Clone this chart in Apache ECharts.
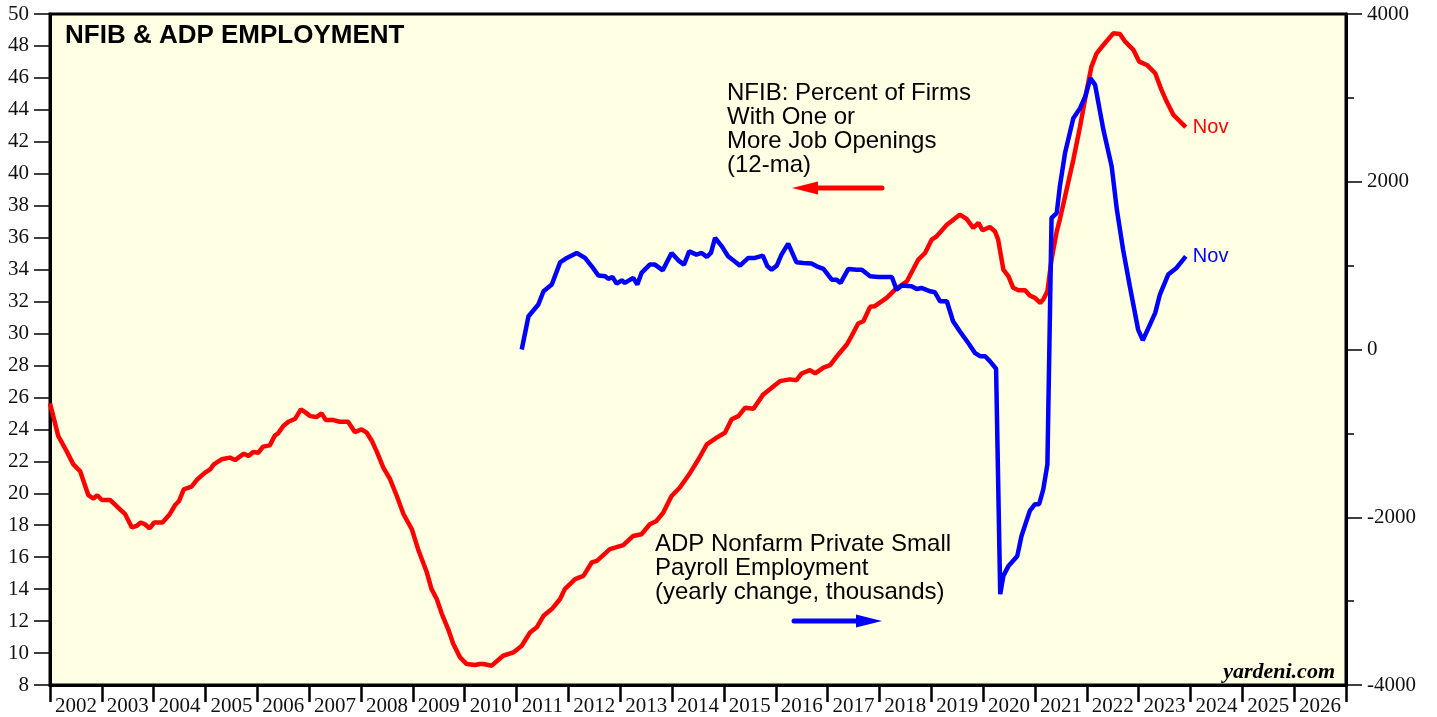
<!DOCTYPE html>
<html>
<head>
<meta charset="utf-8">
<script src="https://cdn.jsdelivr.net/npm/echarts@6/dist/echarts.min.js"></script>
<style>
  html, body { margin: 0; padding: 0; background: #fff; }
  #main { width: 1437px; height: 717px; }
</style>
</head>
<body>
<div id="main"></div>
<script>
// year labels along the bottom (one per year band)
var years = [];
for (var y = 2002; y <= 2026; y++) years.push(String(y));

// NFIB: percent of firms with one or more job openings (12-ma)
var nfibYears = [2002.00, 2002.16, 2002.32, 2002.45, 2002.58, 2002.74, 2002.84, 2002.91, 2003.00, 2003.16,
  2003.25, 2003.35, 2003.45, 2003.58, 2003.67, 2003.75, 2003.83, 2003.92, 2004.01, 2004.17,
  2004.31, 2004.41, 2004.49, 2004.58, 2004.73, 2004.83, 2004.99, 2005.09, 2005.16, 2005.31,
  2005.47, 2005.57, 2005.74, 2005.83, 2005.92, 2006.02, 2006.11, 2006.24, 2006.34, 2006.40,
  2006.50, 2006.60, 2006.73, 2006.84, 2006.92, 2007.02, 2007.14, 2007.24, 2007.32, 2007.47,
  2007.59, 2007.75, 2007.88, 2008.01, 2008.11, 2008.21, 2008.30, 2008.43, 2008.56, 2008.69,
  2008.82, 2008.98, 2009.10, 2009.27, 2009.36, 2009.46, 2009.56, 2009.68, 2009.78, 2009.91,
  2010.04, 2010.20, 2010.29, 2010.36, 2010.52, 2010.74, 2010.94, 2011.10, 2011.26, 2011.39,
  2011.52, 2011.68, 2011.84, 2011.93, 2012.13, 2012.29, 2012.45, 2012.55, 2012.80, 2013.06,
  2013.25, 2013.41, 2013.57, 2013.70, 2013.83, 2013.99, 2014.15, 2014.35, 2014.51, 2014.67,
  2014.86, 2015.02, 2015.15, 2015.28, 2015.41, 2015.57, 2015.76, 2016.08, 2016.27, 2016.40,
  2016.50, 2016.66, 2016.76, 2016.92, 2017.05, 2017.18, 2017.37, 2017.46, 2017.59, 2017.69,
  2017.82, 2017.91, 2018.14, 2018.30, 2018.53, 2018.75, 2018.88, 2019.01, 2019.10, 2019.30,
  2019.43, 2019.55, 2019.68, 2019.81, 2019.91, 2019.99, 2020.13, 2020.23, 2020.29, 2020.39,
  2020.49, 2020.58, 2020.68, 2020.81, 2020.90, 2021.00, 2021.10, 2021.16, 2021.24, 2021.32,
  2021.42, 2021.48, 2021.61, 2021.74, 2021.87, 2022.00, 2022.09, 2022.19, 2022.32, 2022.51,
  2022.64, 2022.74, 2022.90, 2023.01, 2023.16, 2023.32, 2023.44, 2023.54, 2023.67, 2023.80,
  2023.91];
var nfibValues = [25.63, 23.58, 22.64, 21.81, 21.39, 19.88, 19.67, 19.88, 19.58, 19.58,
  19.31, 19.00, 18.69, 17.86, 17.96, 18.17, 18.06, 17.81, 18.17, 18.17,
  18.69, 19.25, 19.52, 20.25, 20.42, 20.83, 21.29, 21.50, 21.81, 22.13,
  22.23, 22.08, 22.48, 22.33, 22.58, 22.54, 22.92, 23.00, 23.63, 23.75,
  24.21, 24.48, 24.67, 25.25, 25.08, 24.83, 24.77, 25.00, 24.58, 24.58,
  24.48, 24.48, 23.83, 24.00, 23.79, 23.27, 22.64, 21.61, 20.88, 19.83,
  18.69, 17.75, 16.50, 15.04, 14.00, 13.38, 12.44, 11.50, 10.56, 9.73,
  9.31, 9.25, 9.31, 9.31, 9.21, 9.83, 10.04, 10.46, 11.29, 11.61,
  12.33, 12.75, 13.38, 14.00, 14.63, 14.83, 15.67, 15.77, 16.50, 16.75,
  17.33, 17.44, 18.06, 18.27, 18.79, 19.83, 20.36, 21.29, 22.13, 23.06,
  23.48, 23.79, 24.63, 24.83, 25.36, 25.29, 26.19, 27.02, 27.13, 27.08,
  27.50, 27.71, 27.50, 27.86, 28.02, 28.58, 29.31, 29.83, 30.63, 30.77,
  31.67, 31.71, 32.23, 32.75, 33.27, 34.63, 35.04, 35.88, 36.08, 36.81,
  37.13, 37.44, 37.17, 36.61, 36.92, 36.46, 36.67, 36.39, 35.88, 34.00,
  33.58, 32.86, 32.71, 32.71, 32.38, 32.23, 31.92, 32.13, 32.64, 34.63,
  36.39, 37.13, 39.00, 40.88, 42.96, 45.25, 46.71, 47.54, 48.06, 48.79,
  48.75, 48.27, 47.75, 47.02, 46.81, 46.29, 45.25, 44.52, 43.69, 43.27,
  42.92];

// ADP small business payrolls, yearly change in thousands
var adpYears = [2011.10, 2011.23, 2011.42, 2011.52, 2011.68, 2011.84, 2011.97, 2012.16, 2012.32, 2012.45,
  2012.58, 2012.71, 2012.77, 2012.85, 2012.93, 2013.03, 2013.09, 2013.25, 2013.33, 2013.41,
  2013.57, 2013.67, 2013.82, 2013.99, 2014.12, 2014.23, 2014.33, 2014.47, 2014.57, 2014.67,
  2014.75, 2014.83, 2014.96, 2015.08, 2015.18, 2015.31, 2015.47, 2015.60, 2015.75, 2015.84,
  2015.92, 2016.02, 2016.11, 2016.24, 2016.40, 2016.53, 2016.69, 2016.79, 2016.92, 2017.08,
  2017.17, 2017.25, 2017.40, 2017.56, 2017.66, 2017.82, 2017.98, 2018.11, 2018.24, 2018.33,
  2018.43, 2018.62, 2018.72, 2018.81, 2018.98, 2019.07, 2019.17, 2019.30, 2019.42, 2019.55,
  2019.71, 2019.84, 2019.94, 2020.04, 2020.13, 2020.25, 2020.33, 2020.39, 2020.49, 2020.66,
  2020.74, 2020.90, 2021.00, 2021.08, 2021.16, 2021.24, 2021.32, 2021.42, 2021.48, 2021.58,
  2021.74, 2021.87, 2021.97, 2022.07, 2022.16, 2022.32, 2022.48, 2022.58, 2022.70, 2022.83,
  2022.99, 2023.08, 2023.16, 2023.32, 2023.41, 2023.57, 2023.73, 2023.91];
var adpValues = [0, 396, 536, 694, 774, 1039, 1092, 1151, 1092, 992,
  881, 873, 842, 865, 786, 825, 794, 854, 774, 913,
  1012, 1012, 944, 1151, 1063, 1012, 1170, 1131, 1151, 1104,
  1151, 1330, 1230, 1111, 1063, 1000, 1092, 1092, 1119, 992,
  952, 1000, 1131, 1262, 1039, 1032, 1024, 992, 961, 833,
  833, 794, 961, 952, 952, 873, 865, 865, 865, 714,
  762, 754, 722, 734, 694, 682, 575, 575, 337, 218,
  80, -39, -80, -80, -139, -230, -2917, -2699, -2580, -2461,
  -2223, -1925, -1845, -1845, -1667, -1369, 1568, 1627, 1944, 2342,
  2758, 2877, 3016, 3235, 3155, 2619, 2182, 1667, 1190, 754,
  238, 111, 218, 437, 655, 893, 973, 1111];

function pairs(xs, vs) {
  return xs.map(function (x, i) { return [x, vs[i]]; });
}

var serif = "'Liberation Serif', 'DejaVu Serif', serif";
var sans = "'Liberation Sans', Arial, sans-serif";

var option = {
  animation: false,
  backgroundColor: '#ffffff',
  grid: {
    show: true,
    left: 50, right: 91, top: 14, bottom: 31,
    backgroundColor: '#FFFFE4',
    borderColor: '#000',
    borderWidth: 3
  },
  xAxis: [
    {
      type: 'category',
      data: years,
      boundaryGap: true,
      position: 'bottom',
      axisLine: { show: true, onZero: false, lineStyle: { color: '#000', width: 3 } },
      axisTick: { show: true, interval: 0, length: 17, lineStyle: { color: '#000', width: 2.5 } },
      axisLabel: { interval: 0, fontFamily: serif, fontSize: 21, color: '#111', margin: 11 },
      splitLine: { show: false }
    },
    {
      type: 'value',
      min: 2002, max: 2027,
      show: false,
      axisLine: { onZero: false }
    }
  ],
  yAxis: [
    {
      type: 'value',
      position: 'left',
      min: 8, max: 50, interval: 2,
      axisLine: { show: true, onZero: false, lineStyle: { color: '#000', width: 3 } },
      axisTick: { show: true, length: 16, lineStyle: { color: '#000', width: 1.5 } },
      axisLabel: { fontFamily: serif, fontSize: 21, color: '#111', margin: 21 },
      splitLine: { show: false }
    },
    {
      type: 'value',
      position: 'right',
      min: -4000, max: 4000, interval: 2000,
      axisLine: { show: true, onZero: false, lineStyle: { color: '#000', width: 3 } },
      axisTick: { show: true, length: 16, lineStyle: { color: '#000', width: 1.5 } },
      minorTick: { show: true, splitNumber: 2, length: 8, lineStyle: { color: '#000', width: 1.5 } },
      axisLabel: {
        fontFamily: serif, fontSize: 21, color: '#111', margin: 21,
        formatter: function (v) { return v < 0 ? '-' + Math.abs(v) : String(v); }
      },
      splitLine: { show: false },
      minorSplitLine: { show: false }
    }
  ],
  series: [
    {
      name: 'NFIB',
      type: 'line',
      xAxisIndex: 1,
      yAxisIndex: 0,
      data: pairs(nfibYears, nfibValues),
      showSymbol: false,
      lineStyle: { color: '#FF0000', width: 4.5 },
      itemStyle: { color: '#FF0000' },
      endLabel: {
        show: true, formatter: 'Nov', color: '#FF0000',
        fontFamily: sans, fontSize: 20, distance: 7
      },
      z: 3
    },
    {
      name: 'ADP',
      type: 'line',
      xAxisIndex: 1,
      yAxisIndex: 1,
      data: pairs(adpYears, adpValues),
      showSymbol: false,
      lineStyle: { color: '#0000FF', width: 4.5 },
      itemStyle: { color: '#0000FF' },
      endLabel: {
        show: true, formatter: 'Nov', color: '#0000FF',
        fontFamily: sans, fontSize: 20, distance: 7
      },
      z: 4
    }
  ],
  graphic: [
    {
      type: 'text', left: 65, top: 23, z: 10,
      style: { text: 'NFIB & ADP EMPLOYMENT', font: 'bold 26px ' + sans, fill: '#000' }
    },
    {
      type: 'text', left: 727, top: 81, z: 10,
      style: {
        text: 'NFIB: Percent of Firms\nWith One or\nMore Job Openings\n(12-ma)',
        font: '24px ' + sans, lineHeight: 24, fill: '#000'
      }
    },
    {
      type: 'line', z: 10,
      shape: { x1: 818, y1: 188, x2: 882, y2: 188 },
      style: { stroke: '#FF0000', lineWidth: 5, lineCap: 'round' }
    },
    {
      type: 'polygon', z: 10,
      shape: { points: [[792, 188], [818, 181.5], [818, 194.5]] },
      style: { fill: '#FF0000' }
    },
    {
      type: 'text', left: 655, top: 532, z: 10,
      style: {
        text: 'ADP Nonfarm Private Small\nPayroll Employment\n(yearly change, thousands)',
        font: '24px ' + sans, lineHeight: 24, fill: '#000'
      }
    },
    {
      type: 'line', z: 10,
      shape: { x1: 794, y1: 621, x2: 858, y2: 621 },
      style: { stroke: '#0000FF', lineWidth: 5, lineCap: 'round' }
    },
    {
      type: 'polygon', z: 10,
      shape: { points: [[882, 621], [856, 614.5], [856, 627.5]] },
      style: { fill: '#0000FF' }
    },
    {
      type: 'text', right: 102, top: 661, z: 10,
      style: { text: 'yardeni.com', font: 'italic bold 22px ' + serif, fill: '#000' }
    }
  ]
};

var chart = echarts.init(document.getElementById('main'));
chart.setOption(option);
</script>
</body>
</html>
